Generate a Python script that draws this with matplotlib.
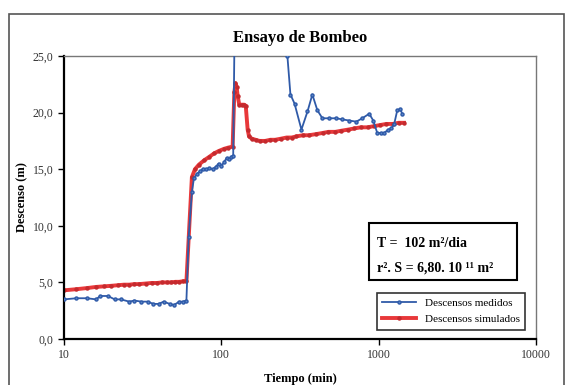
import matplotlib.pyplot as plt
import matplotlib.ticker as ticker
from matplotlib.patches import Rectangle

plt.rcParams['font.family'] = ['Liberation Serif', 'DejaVu Serif']

# Descensos medidos (tiempo en min, descenso en m)
t_med = [10, 12, 14, 16, 17, 19, 21, 23, 26, 28, 31, 34, 37, 40, 43, 47, 50, 54, 57, 60,
         62, 65, 67, 70, 73, 76, 80, 84, 88, 92, 96, 100, 104, 108, 112, 116, 119,
         122, 255,
         263, 275, 292, 323, 353, 379, 408, 439, 486, 538, 588, 651, 721, 787, 871,
         924, 980, 1038, 1084, 1150, 1202, 1256, 1313, 1371, 1413]
s_med = [3.5, 3.6, 3.6, 3.5, 3.8, 3.8, 3.5, 3.5, 3.3, 3.4, 3.3, 3.3, 3.1, 3.1, 3.3, 3.1, 3.0, 3.3, 3.3, 3.4,
         9.0, 13.0, 14.2, 14.6, 14.8, 15.0, 15.0, 15.1, 15.0, 15.2, 15.5, 15.3, 15.6, 16.0, 15.9, 16.1, 16.2,
         30.0, 28.0,
         25.0, 21.6, 20.8, 18.5, 20.1, 21.6, 20.2, 19.5, 19.5, 19.5, 19.4, 19.3, 19.2, 19.5, 19.9,
         19.3, 18.2, 18.2, 18.2, 18.5, 18.6, 19.0, 20.2, 20.3, 19.9]

# Descensos simulados
t_sim = [10, 12, 14, 16, 18, 20, 22, 24, 26, 28, 30, 33, 36, 39, 42, 45, 48, 51, 54, 57, 60,
         65, 68, 72, 78, 84, 90, 96, 104, 110, 118,
         121, 123, 125, 127, 130, 135, 140, 143, 147, 150, 156,
         165, 175, 190, 205, 220, 240, 260, 280, 300, 330, 360, 400, 440, 480, 530, 580,
         640, 700, 770, 850, 930, 1020, 1120, 1230, 1340, 1450]
s_sim = [4.3, 4.4, 4.5, 4.6, 4.65, 4.7, 4.75, 4.8, 4.8, 4.85, 4.85, 4.9, 4.95, 4.95, 5.0, 5.0, 5.0, 5.05, 5.05, 5.1, 5.1,
         14.3, 15.0, 15.4, 15.8, 16.1, 16.4, 16.6, 16.8, 16.9, 17.0,
         21.8, 22.6, 22.3, 21.5, 20.7, 20.7, 20.7, 20.6, 18.5, 17.9, 17.7,
         17.6, 17.5, 17.5, 17.6, 17.6, 17.7, 17.8, 17.8, 17.9, 18.0, 18.0, 18.1, 18.2, 18.3, 18.3, 18.4,
         18.5, 18.6, 18.7, 18.7, 18.8, 18.9, 19.0, 19.0, 19.1, 19.1]

x_ticks = [10, 100, 1000, 10000]
y_ticks = [0, 5, 10, 15, 20, 25]

blue = '#2f5aa8'
red = '#e8383a'

fig = plt.figure(figsize=(5.76, 3.85), dpi=100)
ax = fig.add_axes([0.1111, 0.1195, 0.8194, 0.735])

# outer chart frame
fig.patches.append(Rectangle((9 / 576, -0.05), 555 / 576, 1.05 - 14 / 385,
                             transform=fig.transFigure, fill=False,
                             edgecolor='#555555', linewidth=1.2))

ax.plot(t_sim, s_sim, color=red, linewidth=2.8, marker='o', markersize=2.2,
        markeredgecolor='#c42a2e', markerfacecolor='#c42a2e',
        label='Descensos simulados', zorder=2)
ax.plot(t_med, s_med, color=blue, linewidth=1.3, marker='o', markersize=2.2,
        markeredgecolor=blue, markerfacecolor='#5a86c8',
        label='Descensos medidos', zorder=3)

ax.set_xscale('log')
ax.set_xlim(10, 10000)
ax.set_ylim(0, 25)
ax.set_xticks(x_ticks)
ax.xaxis.set_major_formatter(ticker.FuncFormatter(lambda v, p: f'{v:.0f}'))
ax.xaxis.set_minor_locator(ticker.NullLocator())
ax.set_yticks(y_ticks)
ax.yaxis.set_major_formatter(ticker.FuncFormatter(lambda v, p: f'{v:.1f}'.replace('.', ',')))
ax.tick_params(direction='out', length=4, width=1, labelsize=8.5, colors='black',
               labelcolor='#333333')

for side in ('left', 'bottom'):
    ax.spines[side].set_linewidth(1.6)
    ax.spines[side].set_color('black')
for side in ('top', 'right'):
    ax.spines[side].set_linewidth(1.0)
    ax.spines[side].set_color('#777777')

fig.text(0.521, 0.90, 'Ensayo de Bombeo', ha='center', va='center',
         fontsize=12, fontweight='bold')
ax.set_xlabel('Tiempo (min)', fontsize=9, fontweight='bold', labelpad=8)
ax.set_ylabel('Descenso (m)', fontsize=9, fontweight='bold', labelpad=3)

# parameter box
ax.add_patch(Rectangle((0.646, 0.208), 0.314, 0.202, transform=ax.transAxes,
                       fill=True, facecolor='white', edgecolor='black',
                       linewidth=1.5, zorder=4))
ax.text(0.663, 0.339, 'T =  102 m²/dia', transform=ax.transAxes, ha='left',
        va='center', fontsize=10, fontweight='bold', zorder=5)
ax.text(0.663, 0.251, 'r². S = 6,80. 10 ¹¹ m²', transform=ax.transAxes, ha='left',
        va='center', fontsize=10, fontweight='bold', zorder=5)

handles, labels = ax.get_legend_handles_labels()
leg = ax.legend(handles[::-1], labels[::-1], loc='lower right',
                bbox_to_anchor=(0.977, 0.032), borderaxespad=0, fontsize=8,
                frameon=True, fancybox=False, handlelength=3.0,
                borderpad=0.5, labelspacing=0.6)
leg.get_frame().set_edgecolor('black')
leg.get_frame().set_linewidth(1.2)

fig.savefig('out.png', dpi=100)
